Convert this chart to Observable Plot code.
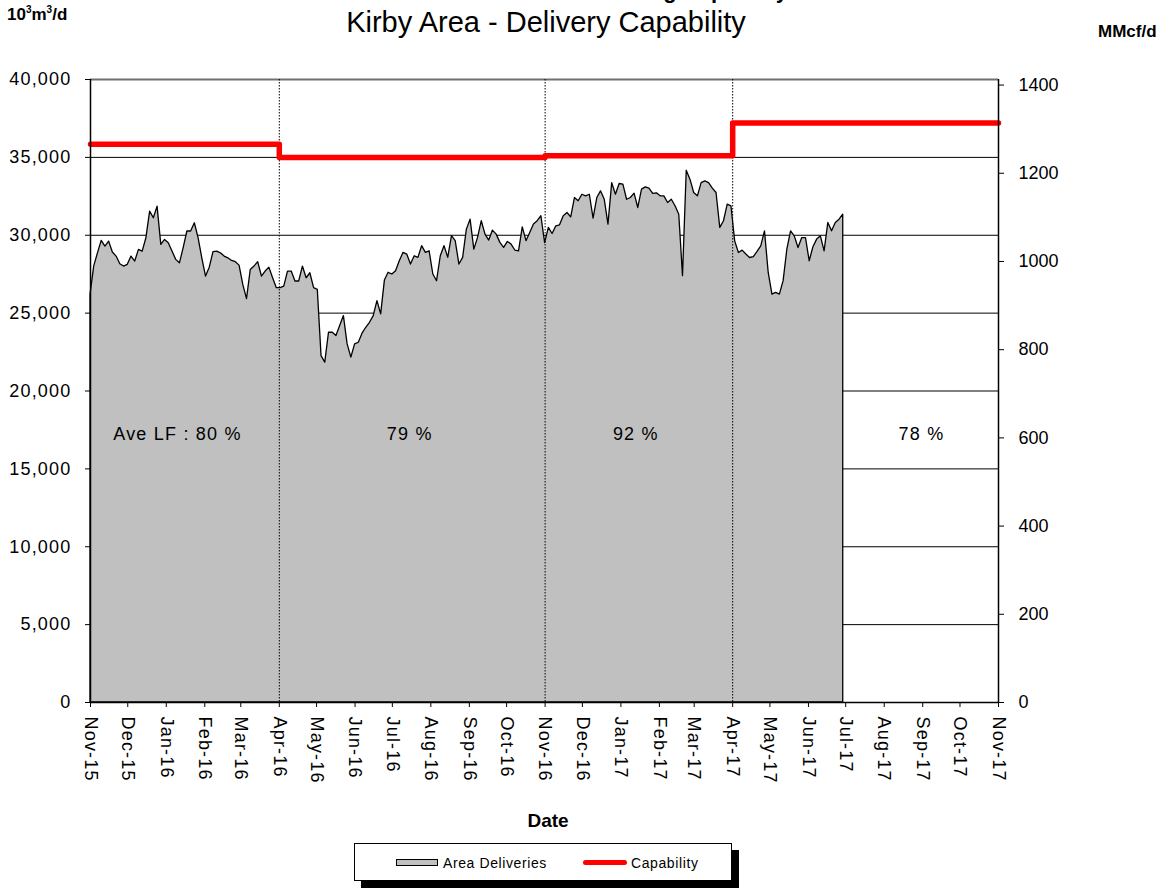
<!DOCTYPE html>
<html>
<head>
<meta charset="utf-8">
<script src="https://cdn.jsdelivr.net/npm/d3@7"></script>
<script src="https://cdn.jsdelivr.net/npm/@observablehq/plot@0.6"></script>
<style>
  body { margin: 0; background: #fff; font-family: "Liberation Sans", Arial, sans-serif; }
  #wrap { position: relative; width: 1176px; height: 889px; overflow: hidden; background: #fff; }
  #chart { position: absolute; left: 0; top: 0; }
  .t { position: absolute; white-space: nowrap; line-height: 1; color: #000; }
  #chart g[aria-label="x-axis tick label"] text { letter-spacing: 1.2px; }
  #chart g[aria-label="y-axis tick label"][text-anchor="end"] text { letter-spacing: 1.2px; }
  #chart g[aria-label="text"] text { letter-spacing: 1.2px; }
  #legend { position: absolute; left: 354px; top: 843px; width: 378px; height: 38px; box-sizing: border-box;
            border: 1.5px solid #000; background: #fff; box-shadow: 7px 7px 0 #000; }
  .sw { position: absolute; box-sizing: border-box; }
  .lt { position: absolute; font-size: 14px; line-height: 1; letter-spacing: 0.6px; white-space: nowrap; }
</style>
</head>
<body>
<div id="wrap">
  <div id="chart"></div>
  <div class="t" style="left:570px; top:-19.6px; width:218px; text-align:right; font-size:22px; font-weight:bold;">Delivering Capability</div>
  <div class="t" style="left:0; width:1092px; top:7.5px; text-align:center; font-size:29px;">Kirby Area - Delivery Capability</div>
  <div class="t" style="left:7px; top:5px; font-size:17px; font-weight:bold;">10<sup style="font-size:10px;">3</sup>m<sup style="font-size:10px;">3</sup>/d</div>
  <div class="t" style="left:1098px; top:23px; font-size:17px; font-weight:bold;">MMcf/d</div>
  <div class="t" style="left:0; width:1096px; top:811px; text-align:center; font-size:19px; font-weight:bold;">Date</div>
  <div id="legend">
    <div class="sw" style="left:41px; top:15px; width:42px; height:7px; background:#c0c0c0; border:1.3px solid #000;"></div>
    <div class="lt" style="left:88px; top:12px;">Area Deliveries</div>
    <div class="sw" style="left:228px; top:16px; width:44px; height:5px; background:#ff0000; border-radius:3px;"></div>
    <div class="lt" style="left:276px; top:12px;">Capability</div>
  </div>
</div>
<script>
// ---- Data ----
const deliveryStart = "2015-11-01";   // first daily reading
const deliveryStepDays = 3;           // readings every 3 days
const deliveryValues = [
  26170, 28000, 28840, 29640, 29270, 29590, 28890, 28630, 28140, 27990,
  28100, 28630, 28310, 29060, 28950, 29810, 31520, 31090, 31840, 29380,
  29700, 29490, 28950, 28420, 28200, 29170, 30240, 30240, 30770, 29810,
  28520, 27350, 27920, 28910, 28950, 28840, 28630, 28520, 28350, 28270,
  28050, 26810, 25900, 27770, 27990, 28270, 27350, 27670, 27920, 27240,
  26600, 26600, 26700, 27670, 27670, 27030, 27030, 27990, 27240, 27560,
  26600, 26490,
  22240, 21820, 23740, 23740, 23530, 24170, 24810, 22990, 22140, 22990,
  23100, 23680, 24060, 24380, 24810, 25770, 24920, 27090, 27590, 27480,
  27690, 28330, 28870, 28760, 28120, 28650, 28550, 29300, 28870, 28970,
  27480, 27050, 28650, 29300, 28550, 29940, 29620, 28120, 28550, 30360,
  31000, 29080, 29830, 30900, 30040, 29660, 30300, 30040, 29510, 29190,
  29570, 29400, 29020, 28970, 30510, 29620, 30150, 30690, 30900, 31220,
  29500,
  30470, 30080, 30570, 30640, 31220, 31430, 31150, 32390, 32180, 32600,
  32500, 32600, 31070, 32390, 32820, 32280, 30680, 33350, 32600, 33290,
  33250, 32280, 32390, 32670, 31750, 32930, 33070, 32990, 32650, 32690,
  32500, 32500, 32070, 32280, 31860, 31320, 27370, 34140, 33570, 32710,
  32500, 33350, 33460, 33350, 32990, 32710, 30470, 30900, 31960, 31860,
  29610, 28860, 29010, 28760, 28540, 28590, 28930, 29290, 30250, 27580,
  26190, 26300, 26190, 27050, 29080, 30250, 29930, 29180, 29820, 29820,
  28330, 29230, 29720, 29930, 28970, 30790, 30250, 30790, 31000, 31320
];

const capabilityDates  = ["2015-11-01", "2016-04-01", "2016-11-01", "2017-04-01", "2017-11-01"];
const capabilityValues = [35850, 35000, 35100, 37200, 37200];

const dividerDates = ["2016-04-01", "2016-11-01", "2017-04-01"];

const loadFactorLabels = ["Ave LF : 80 %", "79 %", "92 %", "78 %"];
const loadFactorDates  = ["2016-01-10", "2016-07-15", "2017-01-13", "2017-08-31"];
const loadFactorLevel  = 17200;

const xDomain = ["2015-11-01", "2017-11-01"];
const leftTicks  = [0, 5000, 10000, 15000, 20000, 25000, 30000, 35000, 40000];
const gridLevels = [5000, 10000, 15000, 20000, 25000, 30000, 35000];
const rightTicksMMcf = [0, 200, 400, 600, 800, 1000, 1200, 1400];
const MMCF_PER_E3M3 = 0.0353147;

// ---- Build tables ----
const parse = d3.utcParse("%Y-%m-%d");
const start = parse(deliveryStart);
const deliveries = deliveryValues.map((v, i) => ({date: d3.utcDay.offset(start, i * deliveryStepDays), value: v}));
const capability = capabilityDates.map((d, i) => ({date: parse(d), value: capabilityValues[i]}));
const lf = loadFactorLabels.map((t, i) => ({date: parse(loadFactorDates[i]), value: loadFactorLevel, text: t}));
const x0 = parse(xDomain[0]), x1 = parse(xDomain[1]);
const monthTicks = d3.utcMonth.range(x0, d3.utcDay.offset(x1, 1));

const chart = Plot.plot({
  width: 1176,
  height: 889,
  marginLeft: 90,
  marginRight: 178,
  marginTop: 79,
  marginBottom: 187,
  x: {type: "utc", domain: [x0, x1]},
  y: {domain: [0, 40000]},
  style: {fontFamily: "'Liberation Sans', Arial, sans-serif", background: "transparent", overflow: "visible", color: "#000"},
  marks: [
    Plot.ruleY(gridLevels, {stroke: "#000", strokeWidth: 1}),
    Plot.ruleY([40000], {stroke: "#707070", strokeWidth: 2}),
    Plot.areaY(deliveries, {x: "date", y: "value", fill: "#c0c0c0", stroke: "#000", strokeWidth: 1.3}),
    Plot.ruleX(dividerDates.map(parse), {stroke: "#000", strokeWidth: 1, strokeDasharray: "1.5,1.5"}),
    Plot.line(capability, {x: "date", y: "value", curve: "step-after", stroke: "#ff0000", strokeWidth: 5.5}),
    Plot.ruleX([x0], {stroke: "#000", strokeWidth: 1.5}),
    Plot.ruleX([x1], {stroke: "#000", strokeWidth: 1.5}),
    Plot.ruleY([0], {stroke: "#000", strokeWidth: 1.5}),
    Plot.text(lf, {x: "date", y: "value", text: "text", fontSize: 18, fill: "#000"}),
    Plot.axisY({ticks: leftTicks, tickFormat: d3.format(","), fontSize: 18, tickSize: 5, tickPadding: 14, label: null}),
    Plot.axisY({anchor: "right", ticks: rightTicksMMcf.map(v => v / MMCF_PER_E3M3),
                tickFormat: v => String(Math.round(v * MMCF_PER_E3M3)), fontSize: 18, tickSize: 5, tickPadding: 15, label: null}),
    Plot.axisX({ticks: monthTicks, tickFormat: d3.utcFormat("%b-%y"), tickRotate: 90, fontSize: 18,
                tickSize: 5, tickPadding: 9, label: null})
  ]
});
document.getElementById("chart").appendChild(chart);
</script>
</body>
</html>
